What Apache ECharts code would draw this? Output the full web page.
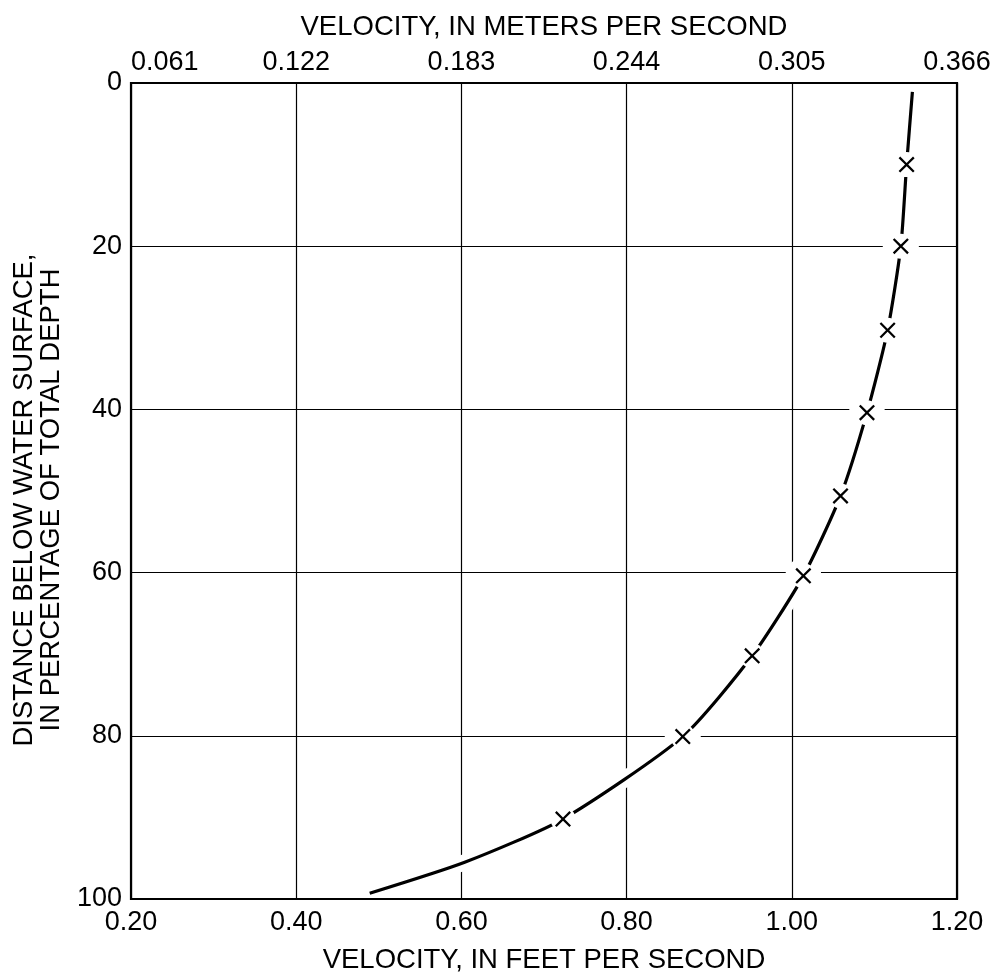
<!DOCTYPE html>
<html>
<head>
<meta charset="utf-8">
<title>Velocity profile</title>
<script src="https://cdn.jsdelivr.net/npm/echarts@6/dist/echarts.min.js"></script>
<style>
html, body { margin: 0; padding: 0; background: #fff; }
#chart { width: 994px; height: 973px; }
</style>
</head>
<body>
<div id="chart"></div>
<script>
// tick labels
var feetTicks = ['0.20', '0.40', '0.60', '0.80', '1.00', '1.20'];
var meterTicks = ['0.061', '0.122', '0.183', '0.244', '0.305', '0.366'];
var depthTicks = ['0', '20', '40', '60', '80', '100'];

// measured points (x marks)
var markVelocity = [1.139, 1.132, 1.116, 1.091, 1.059, 1.014, 0.952, 0.868, 0.723];
var markDepth = [10.0, 20.0, 30.3, 40.4, 50.6, 60.4, 70.2, 80.1, 90.2];

// the drawn curve
var curveVelocity = [1.146, 1.139, 1.132, 1.116, 1.091, 1.059, 1.014, 0.952, 0.868, 0.723, 0.604, 0.489];
var curveDepth = [1.1, 10.0, 20.0, 30.3, 40.4, 50.6, 60.4, 70.2, 80.1, 90.2, 95.5, 99.3];

var FONT = "'Liberation Sans', Arial, sans-serif";
var X_PATH = 'path://M0,1L1,0L5,4L9,0L10,1L6,5L10,9L9,10L5,6L1,10L0,9L4,5Z';

function pairs(xs, ys) {
    var out = [];
    for (var i = 0; i < xs.length; i++) {
        out.push([xs[i], ys[i]]);
    }
    return out;
}

var curveData = pairs(curveVelocity, curveDepth);
var markData = pairs(markVelocity, markDepth);

var chart = echarts.init(document.getElementById('chart'));
chart.setOption({
    backgroundColor: '#fff',
    animation: false,
    textStyle: {fontFamily: FONT, color: '#000'},
    grid: {
        left: 131, right: 37, top: 83, bottom: 74,
        outerBoundsMode: 'none', containLabel: false,
        show: true, z: 10,
        borderColor: '#000', borderWidth: 2.2,
        backgroundColor: 'rgba(0,0,0,0)'
    },
    xAxis: [{
        type: 'value', position: 'bottom',
        min: 0.2, max: 1.2, interval: 0.2,
        name: 'VELOCITY, IN FEET PER SECOND',
        nameLocation: 'middle', nameGap: 47,
        nameTextStyle: {fontSize: 27.5, fontFamily: FONT, color: '#000'},
        axisLine: {show: false},
        axisTick: {show: false},
        axisLabel: {
            fontSize: 27, fontFamily: FONT, color: '#000', margin: 10,
            formatter: function (v, i) { return feetTicks[i]; }
        },
        splitLine: {show: true, lineStyle: {color: '#000', width: 1.2}}
    }, {
        type: 'value', position: 'top',
        min: 0.2, max: 1.2, interval: 0.2,
        name: 'VELOCITY, IN METERS PER SECOND',
        nameLocation: 'middle', nameGap: 42,
        nameTextStyle: {fontSize: 27.5, fontFamily: FONT, color: '#000'},
        axisLine: {show: false},
        axisTick: {show: false},
        axisLabel: {
            fontSize: 27, fontFamily: FONT, color: '#000', margin: 7,
            alignMinLabel: 'left',
            formatter: function (v, i) { return meterTicks[i]; }
        },
        splitLine: {show: false}
    }],
    yAxis: {
        type: 'value', inverse: true,
        min: 0, max: 100, interval: 20,
        name: 'DISTANCE BELOW WATER SURFACE,\nIN PERCENTAGE OF TOTAL DEPTH',
        nameLocation: 'middle', nameGap: 66, nameRotate: 90,
        nameTextStyle: {
            fontSize: 27.5, lineHeight: 27, fontFamily: FONT, color: '#000',
            align: 'center', padding: [0, 18, 0, 0]
        },
        axisLine: {show: false},
        axisTick: {show: false},
        axisLabel: {
            fontSize: 27, fontFamily: FONT, color: '#000', margin: 9,
            formatter: function (v, i) { return depthTicks[i]; }
        },
        splitLine: {show: true, lineStyle: {color: '#000', width: 1.2}}
    },
    series: [
        {   // white band that breaks the grid lines where the curve crosses
            type: 'line', z: 2, data: curveData, smooth: 0.22,
            showSymbol: false, silent: true,
            lineStyle: {color: '#fff', width: 16, cap: 'round'}
        },
        {   // white halo round each point on the grid
            type: 'scatter', z: 3, data: markData, symbol: 'circle', symbolSize: 36,
            silent: true, itemStyle: {color: '#fff', opacity: 1}
        },
        {
            type: 'line', z: 4, data: curveData, smooth: 0.22,
            showSymbol: false, silent: true,
            lineStyle: {color: '#000', width: 3.2}
        },
        {   // gap in the curve round each point
            type: 'scatter', z: 5, data: markData, symbol: 'circle', symbolSize: 25,
            silent: true, itemStyle: {color: '#fff', opacity: 1}
        },
        {
            type: 'scatter', z: 6, data: markData, symbol: X_PATH, symbolSize: 16,
            symbolKeepAspect: true, silent: true, itemStyle: {color: '#000', opacity: 1}
        }
    ]
});
</script>
</body>
</html>
